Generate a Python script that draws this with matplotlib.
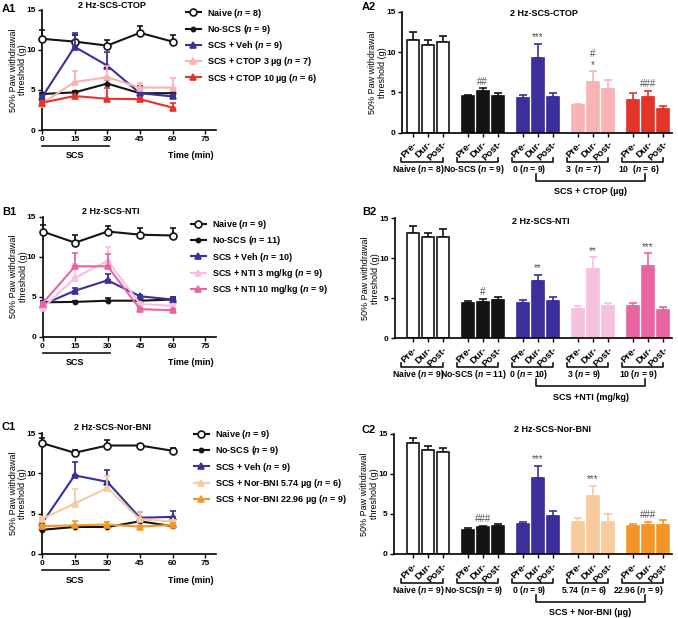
import matplotlib
matplotlib.use('Agg')
import matplotlib.pyplot as plt

plt.rcParams['font.family'] = ['Liberation Sans', 'DejaVu Sans']
plt.rcParams['font.weight'] = 'bold'
plt.rcParams['mathtext.fontset'] = 'custom'
plt.rcParams['mathtext.it'] = 'Liberation Sans:italic:bold'
plt.rcParams['mathtext.rm'] = 'Liberation Sans:bold'

# ---- data ----
times = [0, 15, 30, 45, 60]
phases = ['Pre-', 'Dur-', 'Post-']

# A1: time course, 2 Hz SCS + CTOP
a1_naive = [11.4, 11.05, 10.55, 12.15, 11.05]
a1_naive_err = [1.05, 0.8, 0.65, 0.85, 0.85]
a1_noscs = [4.5, 4.7, 5.8, 4.6, 4.6]
a1_noscs_err = [0.15, 0.2, 0.4, 0.15, 0.25]
a1_veh = [4.1, 10.4, 8.05, 4.6, 4.2]
a1_veh_err = [0.3, 1.75, 1.75, 0.9, 0.3]
a1_ctop3 = [3.3, 6.0, 6.6, 5.3, 5.3]
a1_ctop3_err = [0.2, 1.35, 1.4, 0.6, 1.2]
a1_ctop10 = [3.4, 4.25, 3.9, 3.85, 2.8]
a1_ctop10_err = [0.2, 0.15, 1.4, 0.15, 0.6]
a1_labels = ['Naive ($n$ = 8)', 'No-SCS ($n$ = 9)', 'SCS + Veh ($n$ = 9)',
             'SCS + CTOP 3 µg ($n$ = 7)', 'SCS + CTOP 10 µg ($n$ = 6)']

# B1: time course, 2 Hz SCS + NTI
b1_naive = [13.15, 11.75, 13.15, 12.75, 12.65]
b1_naive_err = [0.8, 1.0, 0.65, 0.85, 0.9]
b1_noscs = [4.3, 4.35, 4.5, 4.5, 4.65]
b1_noscs_err = [0.2, 0.15, 0.4, 0.15, 0.35]
b1_veh = [4.0, 5.75, 7.05, 5.05, 4.65]
b1_veh_err = [0.2, 0.4, 0.8, 0.2, 0.2]
b1_nti3 = [3.55, 7.35, 9.5, 4.1, 3.85]
b1_nti3_err = [0.2, 1.8, 1.7, 0.2, 0.2]
b1_nti10 = [4.15, 8.8, 8.8, 3.45, 3.3]
b1_nti10_err = [0.2, 1.7, 1.5, 0.2, 0.2]
b1_labels = ['Naive ($n$ = 9)', 'No-SCS ($n$ = 11)', 'SCS + Veh ($n$ = 10)',
             'SCS + NTI 3 mg/kg ($n$ = 9)', 'SCS + NTI 10 mg/kg ($n$ = 9)']

# C1: time course, 2 Hz SCS + Nor-BNI
c1_naive = [13.75, 12.55, 13.45, 13.45, 12.8]
c1_naive_err = [0.6, 0.4, 0.7, 0.2, 0.4]
c1_noscs = [3.0, 3.35, 3.35, 4.05, 3.45]
c1_noscs_err = [0.1, 0.15, 0.2, 0.3, 0.1]
c1_veh = [3.8, 9.75, 8.95, 4.5, 4.6]
c1_veh_err = [0.2, 1.6, 1.5, 0.7, 0.7]
c1_nb574 = [4.35, 6.25, 8.2, 4.3, 4.05]
c1_nb574_err = [0.2, 1.75, 1.45, 0.9, 0.2]
c1_nb2296 = [3.45, 3.55, 3.65, 3.4, 3.6]
c1_nb2296_err = [0.1, 0.5, 0.3, 0.1, 0.3]
c1_labels = ['Naive ($n$ = 9)', 'No-SCS ($n$ = 9)', 'SCS + Veh ($n$ = 9)',
             'SCS + Nor-BNI 5.74 µg ($n$ = 6)', 'SCS + Nor-BNI 22.96 µg ($n$ = 9)']

# A2/B2/C2: Pre/Dur/Post means per group
a2_means = [[11.5, 10.9, 11.2], [4.5, 5.2, 4.5], [4.3, 9.3, 4.4], [3.4, 6.3, 5.4], [4.0, 4.4, 2.9]]
a2_errs = [[1.0, 0.6, 0.8], [0.2, 0.3, 0.4], [0.4, 1.7, 0.5], [0.2, 1.3, 1.1], [0.9, 0.8, 0.4]]
a2_groups = ['Naive ($n$ = 8)', 'No-SCS ($n$ = 9)', '0 ($n$ = 9)', '3  ($n$ = 7)', '10  ($n$ = 6)']
a2_drug = 'SCS + CTOP (µg)'
a2_marks = [(1, '##'), (2, '***'), (3, '*'), (3, '#'), (4, '###')]

b2_means = [[13.2, 12.6, 12.7], [4.45, 4.5, 4.8], [4.45, 7.2, 4.7], [3.6, 8.6, 4.0], [4.0, 9.0, 3.5]]
b2_errs = [[0.8, 0.6, 0.9], [0.25, 0.4, 0.4], [0.35, 0.7, 0.4], [0.4, 1.5, 0.4], [0.4, 1.6, 0.4]]
b2_groups = ['Naive ($n$ = 9)', 'No-SCS ($n$ = 11)', '0 ($n$ = 10)', '3 ($n$ = 9)', '10 ($n$ = 9)']
b2_drug = 'SCS +NTI (mg/kg)'
b2_marks = [(1, '#'), (2, '**'), (3, '**'), (4, '***')]

c2_means = [[13.9, 13.0, 12.8], [3.0, 3.4, 3.5], [3.7, 9.5, 4.7], [4.0, 7.3, 4.0], [3.5, 3.6, 3.6]]
c2_errs = [[0.6, 0.5, 0.5], [0.3, 0.15, 0.2], [0.3, 1.5, 0.7], [0.5, 1.2, 1.0], [0.3, 0.4, 0.6]]
c2_groups = ['Naive ($n$ = 9)', 'No-SCS($n$ = 9)', '0 ($n$ = 9)', '5.74 ($n$ = 6)', '22.96 ($n$ = 9)']
c2_drug = 'SCS + Nor-BNI (µg)'
c2_marks = [(1, '###'), (2, '***'), (3, '***'), (4, '###')]

BLACK = '#141414'
VEH = '#3b2f9b'
colors_a = ['white', BLACK, VEH, '#f8b4b4', '#e4342a']
colors_b = ['white', BLACK, VEH, '#f6c1de', '#e765a1']
colors_c = ['white', BLACK, VEH, '#f8cb9e', '#f2962a']

W, H = 678, 618
FS = 6.5
fig = plt.figure(figsize=(W / 100, H / 100), dpi=100)


def rect(l, t, r, b):
    return [l / W, 1 - b / H, (r - l) / W, (b - t) / H]


def style_axes(ax):
    for s in ['top', 'right']:
        ax.spines[s].set_visible(False)
    for s in ['left', 'bottom']:
        ax.spines[s].set_linewidth(1.2)
    ax.tick_params(width=1.0, length=3, labelsize=6, pad=1.5)
    ax.set_ylim(0, 15)
    ax.set_yticks([0, 5, 10, 15])


def line_panel(r, series, errs, labels, colors, leg_xy, title, title_xy, letter_y, letter):
    ax = fig.add_axes(rect(*r))
    style_axes(ax)
    ax.set_xlim(0, 80)
    ax.set_xticks([0, 15, 30, 45, 60, 75])
    handles = []
    for i, (vals, err) in enumerate(zip(series, errs)):
        c = BLACK if i < 2 else colors[i]
        if i == 0:
            mk, ms, mfc = 'o', 5, 'white'
        elif i == 1:
            mk, ms, mfc = 'o', 3, c
        else:
            mk, ms, mfc = '^', 4.5, c
        cont = ax.errorbar(times, vals, yerr=[[0] * len(err), err], color=c, marker=mk,
                           ms=ms, mfc=mfc, mec=c, mew=1.2, lw=1.5, capsize=2.2,
                           elinewidth=1.3, capthick=1.3, clip_on=False, zorder=3 + i)
        handles.append(cont[0])
    ax.legend(handles, labels, loc='upper left', bbox_to_anchor=(leg_xy[0] / W, 1 - leg_xy[1] / H),
              bbox_transform=fig.transFigure, frameon=False, fontsize=FS, borderpad=0,
              handlelength=1.7, handletextpad=0.7, labelspacing=0.36)
    tr = ax.get_xaxis_transform()
    ax.plot([0, 31], [-0.135, -0.135], color=BLACK, lw=1.2, transform=tr, clip_on=False)
    ax.text(15, -0.215, 'SCS', transform=tr, ha='center', va='center', fontsize=FS)
    ax.text(68.5, -0.215, 'Time (min)', transform=tr, ha='center', va='center', fontsize=FS)
    ax.set_ylabel('50% Paw withdrawal\nthreshold (g)', fontsize=FS, linespacing=1.1)
    ax.yaxis.set_label_coords(-0.085, 0.5)
    fig.text(title_xy[0] / W, 1 - title_xy[1] / H, title, ha='center', va='center', fontsize=FS)
    fig.text(2 / W, 1 - letter_y / H, letter, ha='left', va='center', fontsize=8)
    return ax


def bar_panel(r, means, errs, groups, drug, marks, colors, title, title_xy, letter_y, letter):
    ax = fig.add_axes(rect(*r))
    style_axes(ax)
    step = 3.67
    left = -(412.7 - r[0]) / 15.0
    ax.set_xlim(left, left + (r[2] - r[0]) / 15.0)
    xs = []
    for g, (m, e) in enumerate(zip(means, errs)):
        x = [g * step + i for i in range(3)]
        xs += x
        fc = colors[g]
        ec = BLACK if g == 0 else colors[g]
        ax.bar(x, m, width=0.8, color=fc, edgecolor=ec, linewidth=1.2, zorder=2)
        ax.errorbar(x, m, yerr=[[0, 0, 0], e], fmt='none', ecolor=ec, elinewidth=1.2,
                    capsize=2.6, capthick=1.2, zorder=1)
    ax.set_xticks(xs)
    ax.set_xticklabels(phases * len(means), rotation=45, ha='right', va='top',
                       rotation_mode='anchor', fontsize=6.8)
    ax.tick_params(axis='x', pad=2)
    tr = ax.get_xaxis_transform()
    for g, lab in enumerate(groups):
        x0 = g * step
        ax.plot([x0 - 0.75, x0 - 0.75, x0 + 2.0, x0 + 2.0], [-0.205, -0.24, -0.24, -0.205],
                color=BLACK, lw=1.2, transform=tr, clip_on=False)
        ax.text(x0 + 0.4, -0.305, lab, transform=tr, ha='center', va='center', fontsize=6.2)
    xa, xb = 2 * step + 0.9, 4 * step + 0.8
    ax.plot([xa, xa, xb, xb], [-0.34, -0.40, -0.40, -0.34], color=BLACK, lw=1.2,
            transform=tr, clip_on=False)
    ax.text((xa + xb) / 2, -0.49, drug, transform=tr, ha='center', va='center', fontsize=FS)
    seen = {}
    for g, txt in marks:
        k = seen.get(g, 0)
        seen[g] = k + 1
        top = means[g][1] + errs[g][1]
        ax.text(g * step + 1, top + 0.2 + 1.35 * k, txt, ha='center', va='bottom',
                fontsize=7, fontweight='normal', color='#505050')
    ax.set_ylabel('50% Paw withdrawal\nthreshold (g)', fontsize=FS, linespacing=1.1)
    ax.yaxis.set_label_coords(-15 / (r[2] - r[0]), 0.5)
    fig.text(title_xy[0] / W, 1 - title_xy[1] / H, title, ha='center', va='center', fontsize=FS)
    fig.text(362 / W, 1 - letter_y / H, letter, ha='left', va='center', fontsize=8)
    return ax


line_panel((42, 10, 216, 130),
           [a1_naive, a1_noscs, a1_veh, a1_ctop3, a1_ctop10],
           [a1_naive_err, a1_noscs_err, a1_veh_err, a1_ctop3_err, a1_ctop10_err],
           a1_labels, colors_a, (181, 2), '2 Hz-SCS-CTOP', (112, 6), 8.5, 'A1')
line_panel((42.5, 216.7, 216, 336.7),
           [b1_naive, b1_noscs, b1_veh, b1_nti3, b1_nti10],
           [b1_naive_err, b1_noscs_err, b1_veh_err, b1_nti3_err, b1_nti10_err],
           b1_labels, colors_b, (186, 213.5), '2 Hz-SCS-NTI', (111, 212), 212, 'B1')
line_panel((42, 433, 216, 554),
           [c1_naive, c1_noscs, c1_veh, c1_nb574, c1_nb2296],
           [c1_naive_err, c1_noscs_err, c1_veh_err, c1_nb574_err, c1_nb2296_err],
           c1_labels, colors_c, (189, 423.5), '2 Hz-SCS-Nor-BNI', (112, 428), 427.5, 'C1')

bar_panel((402, 11.7, 672, 132.7), a2_means, a2_errs, a2_groups, a2_drug, a2_marks,
          colors_a, '2 Hz-SCS-CTOP', (544, 14), 7, 'A2')
bar_panel((395, 218.3, 672, 338.3), b2_means, b2_errs, b2_groups, b2_drug, b2_marks,
          colors_b, '2 Hz-SCS-NTI', (541, 221.7), 212, 'B2')
bar_panel((394, 434, 672, 554), c2_means, c2_errs, c2_groups, c2_drug, c2_marks,
          colors_c, '2 Hz-SCS-Nor-BNI', (552, 429.3), 430, 'C2')

fig.savefig('out.png', dpi=100)
